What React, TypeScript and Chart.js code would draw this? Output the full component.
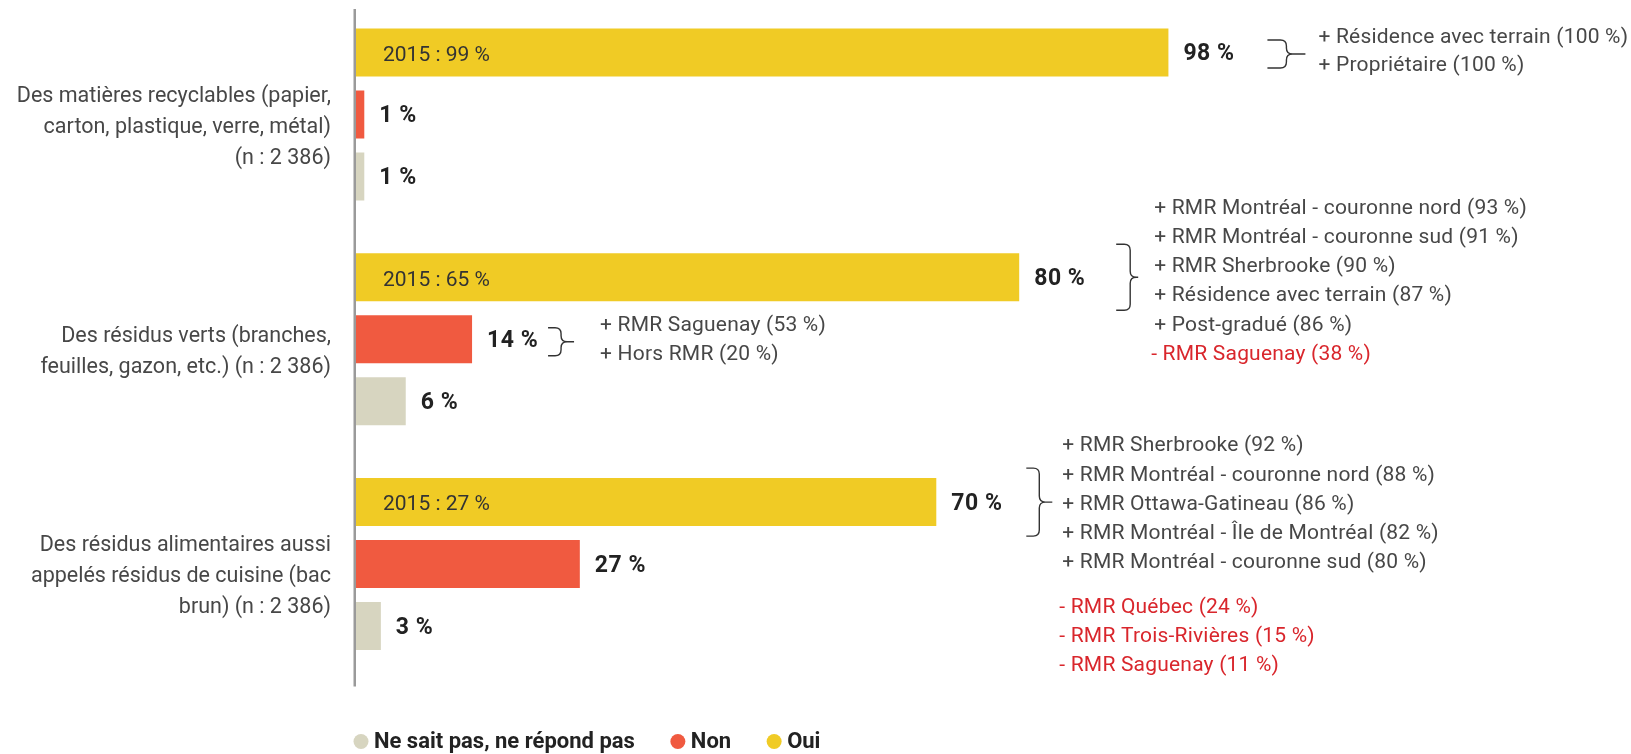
import React, { useEffect, useRef } from "react";
import { Chart, registerables } from "chart.js";

Chart.register(...registerables);

// ---------- DATA ----------
const categories: string[][] = [
  ["Des matières recyclables (papier,", "carton, plastique, verre, métal)", "(n : 2 386)"],
  ["Des résidus verts (branches,", "feuilles, gazon, etc.) (n : 2 386)"],
  ["Des résidus alimentaires aussi", "appelés résidus de cuisine (bac", "brun) (n : 2 386)"],
];
const seriesNames = ["Oui", "Non", "Ne sait pas, ne répond pas"];
const ouiValues = [98, 80, 70];
const nonValues = [1, 14, 27];
const nspValues = [1, 6, 3];
const oui2015 = [99, 65, 27];

const notesRecyclablesOui = ["+ Résidence avec terrain (100 %)", "+ Propriétaire (100 %)"];
const notesVertsOuiPlus = [
  "+ RMR Montréal - couronne nord (93 %)",
  "+ RMR Montréal - couronne sud (91 %)",
  "+ RMR Sherbrooke (90 %)",
  "+ Résidence avec terrain (87 %)",
  "+ Post-gradué (86 %)",
];
const notesVertsOuiMinus = ["- RMR Saguenay (38 %)"];
const notesVertsNonPlus = ["+ RMR Saguenay (53 %)", "+ Hors RMR (20 %)"];
const notesAlimOuiPlus = [
  "+ RMR Sherbrooke (92 %)",
  "+ RMR Montréal - couronne nord (88 %)",
  "+ RMR Ottawa-Gatineau (86 %)",
  "+ RMR Montréal - Île de Montréal (82 %)",
  "+ RMR Montréal - couronne sud (80 %)",
];
const notesAlimOuiMinus = ["- RMR Québec (24 %)", "- RMR Trois-Rivières (15 %)", "- RMR Saguenay (11 %)"];

// ---------- STYLE ----------
const COLORS = ["#F0CB25", "#F05A40", "#D7D5C0"];
const FONT = 'Roboto, "Open Sans", "DejaVu Sans", sans-serif';
const TEXT = "#474747";
const RED_TEXT = "#D9262C";

type Anno = {
  ds: number;
  idx: number;
  plus: string[];
  minus: string[];
  braceDx: number;
  arm: number;
  tip: number;
  half: number;
  braceDy: number;
  textDx: number;
  firstDy: number;
  lh: number;
  minusGap: number;
};

const annotations: Anno[] = [
  { ds: 0, idx: 0, plus: notesRecyclablesOui, minus: [], braceDx: 99, arm: 19, tip: 19, half: 14, braceDy: 1.5, textDx: 150, firstDy: -14.5, lh: 28, minusGap: 0 },
  { ds: 0, idx: 1, plus: notesVertsOuiPlus, minus: notesVertsOuiMinus, braceDx: 97, arm: 14, tip: 8, half: 33, braceDy: 0, textDx: 135, firstDy: -69, lh: 29.3, minusGap: 0 },
  { ds: 1, idx: 1, plus: notesVertsNonPlus, minus: [], braceDx: 76, arm: 13, tip: 13, half: 14, braceDy: 2.5, textDx: 128, firstDy: -14, lh: 29, minusGap: 0 },
  { ds: 0, idx: 2, plus: notesAlimOuiPlus, minus: notesAlimOuiMinus, braceDx: 90, arm: 13, tip: 13, half: 34, braceDy: 0, textDx: 126, firstDy: -56, lh: 29.2, minusGap: 15.6 },
];

function drawBrace(ctx: CanvasRenderingContext2D, left: number, mid: number, arm: number, tip: number, half: number) {
  const vx = left + arm;
  const top = mid - half;
  const bot = mid + half;
  const r = Math.min(6, arm * 0.5);
  ctx.beginPath();
  ctx.moveTo(left, top);
  ctx.lineTo(vx - r, top);
  ctx.quadraticCurveTo(vx, top, vx, top + r);
  ctx.lineTo(vx, mid - r);
  ctx.quadraticCurveTo(vx, mid, vx + r, mid);
  ctx.lineTo(vx + tip, mid);
  ctx.moveTo(vx + r, mid);
  ctx.quadraticCurveTo(vx, mid, vx, mid + r);
  ctx.lineTo(vx, bot - r);
  ctx.quadraticCurveTo(vx, bot, vx - r, bot);
  ctx.lineTo(left, bot);
  ctx.stroke();
}

function setSpacing(ctx: any, px: number) {
  if ("letterSpacing" in ctx) ctx.letterSpacing = `${px}px`;
}

const overlayPlugin = {
  id: "overlay",
  afterDatasetsDraw(chart: any) {
    const ctx: CanvasRenderingContext2D = chart.ctx;
    const area = chart.chartArea;
    const yScale = chart.scales.y;
    ctx.save();

    // axis line
    ctx.strokeStyle = "#9A9A9A";
    ctx.lineWidth = 2.5;
    ctx.beginPath();
    ctx.moveTo(area.left - 1.25, area.top + 7);
    ctx.lineTo(area.left - 1.25, area.bottom + 10);
    ctx.stroke();

    // category labels
    ctx.font = `400 21.5px ${FONT}`;
    setSpacing(ctx, 0);
    ctx.fillStyle = TEXT;
    ctx.textAlign = "right";
    ctx.textBaseline = "middle";
    categories.forEach((lines, i) => {
      const yc = yScale.getPixelForValue(i) + 13;
      lines.forEach((ln, j) => {
        ctx.fillText(ln, area.left - 25, yc + (j - (lines.length - 1) / 2) * 31);
      });
    });

    // value labels
    ctx.textAlign = "left";
    ctx.font = `700 23px ${FONT}`;
    setSpacing(ctx, 0.5);
    ctx.fillStyle = "#222222";
    chart.data.datasets.forEach((ds: any, di: number) => {
      const meta = chart.getDatasetMeta(di);
      meta.data.forEach((el: any, i: number) => {
        ctx.fillText(`${ds.data[i]} %`, el.x + 15, el.y + 2);
      });
    });

    // 2015 labels inside Oui bars
    ctx.font = `400 21px ${FONT}`;
    setSpacing(ctx, 0);
    ctx.fillStyle = "#333333";
    const ouiMeta = chart.getDatasetMeta(0);
    ouiMeta.data.forEach((el: any, i: number) => {
      ctx.fillText(`2015 : ${oui2015[i]} %`, area.left + 27, el.y + 3);
    });

    // annotations
    annotations.forEach((a) => {
      const el = chart.getDatasetMeta(a.ds).data[a.idx];
      const end = el.x;
      const yc = el.y;
      ctx.strokeStyle = "#333333";
      ctx.lineWidth = 1.4;
      drawBrace(ctx, end + a.braceDx, yc + a.braceDy, a.arm, a.tip, a.half);
      ctx.font = `400 21px ${FONT}`;
      setSpacing(ctx, 0.2);
      let y = yc + a.firstDy;
      ctx.fillStyle = TEXT;
      a.plus.forEach((t) => {
        ctx.fillText(t, end + a.textDx, y);
        y += a.lh;
      });
      y += a.minusGap;
      ctx.fillStyle = RED_TEXT;
      a.minus.forEach((t) => {
        ctx.fillText(t, end + a.textDx - 3, y);
        y += a.lh;
      });
    });

    // legend (reverse order)
    ctx.font = `700 22px ${FONT}`;
    setSpacing(ctx, 0);
    let lx = area.left + 5;
    const ly = area.bottom + 65;
    [2, 1, 0].forEach((di) => {
      ctx.fillStyle = COLORS[di];
      ctx.beginPath();
      ctx.arc(lx, ly, 7.5, 0, Math.PI * 2);
      ctx.fill();
      ctx.fillStyle = "#222222";
      ctx.fillText(seriesNames[di], lx + 13, ly + 1);
      lx += 13 + ctx.measureText(seriesNames[di]).width + 43;
    });

    ctx.restore();
  },
};

export default function App() {
  const ref = useRef<HTMLCanvasElement>(null);
  useEffect(() => {
    if (!ref.current) return;
    const chart = new Chart(ref.current, {
      type: "bar",
      data: {
        labels: categories.map((c) => c.join(" ")),
        datasets: [
          { label: seriesNames[0], data: ouiValues, backgroundColor: COLORS[0] },
          { label: seriesNames[1], data: nonValues, backgroundColor: COLORS[1] },
          { label: seriesNames[2], data: nspValues, backgroundColor: COLORS[2] },
        ],
      },
      options: {
        indexAxis: "y",
        animation: false,
        responsive: false,
        layout: { padding: { left: 356, right: 446, top: 2, bottom: 77.5 } },
        datasets: { bar: { categoryPercentage: 0.827, barPercentage: 0.774 } },
        scales: {
          x: { display: false, min: 0, max: 100 },
          y: { display: false },
        },
        plugins: {
          legend: { display: false },
          tooltip: { enabled: false },
        },
      },
      plugins: [overlayPlugin],
    } as any);
    return () => chart.destroy();
  }, []);
  return (
    <div style={{ position: "absolute", left: 0, top: 0, width: 1631, height: 754, background: "#fff" }}>
      <canvas ref={ref} width={1631} height={754} />
    </div>
  );
}
